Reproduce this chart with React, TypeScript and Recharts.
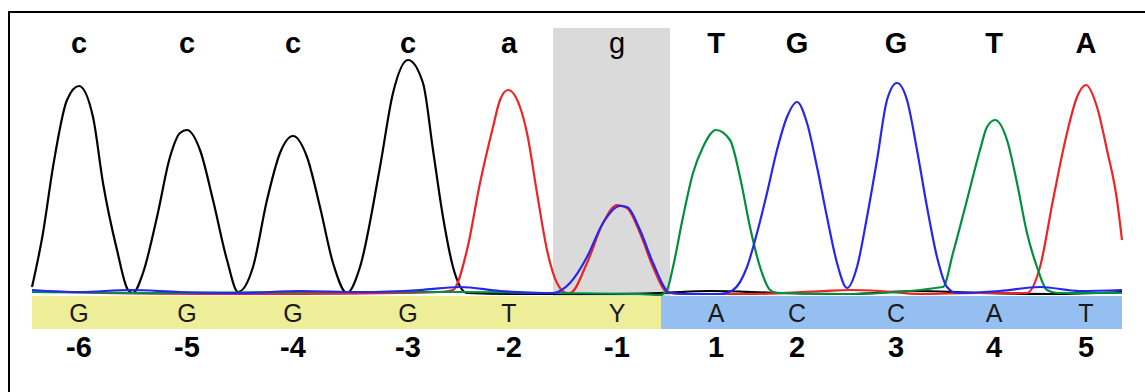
import { ComposedChart, Line, XAxis, YAxis, ReferenceArea } from "recharts";

// peak (base-call) positions along the trace, in scan units
const peakPositions = [79, 187, 293, 408, 509, 617, 716, 797, 896, 994, 1086];
const topCalls = ["c", "c", "c", "c", "a", "g", "T", "G", "G", "T", "A"];
const bandCalls = ["G", "G", "G", "G", "T", "Y", "A", "C", "C", "A", "T"];
const positionLabels = ["-6", "-5", "-4", "-3", "-2", "-1", "1", "2", "3", "4", "5"];

// [scan, signal]
const blackTrace: [number, number][] = [
  [32, 7], [43, 61], [53, 127], [67, 194], [79, 208], [93, 177], [103, 111], [117, 44],
  [128, 4], [133, 1], [143, 21], [157, 77], [170, 137], [180, 161], [187, 164], [200, 144],
  [213, 94], [227, 34], [238, 2], [253, 27], [267, 94], [280, 141], [293, 158], [307, 137],
  [320, 87], [333, 31], [347, 1], [360, 27], [380, 127], [393, 201], [408, 234], [423, 211],
  [433, 144], [443, 77], [453, 27], [467, 1], [520, 0], [600, 0], [660, 1], [710, 3],
  [780, 1], [850, 0], [913, 3], [980, 1], [1050, 0], [1122, 2],
];
const redTrace: [number, number][] = [
  [32, 3], [100, 1], [200, 0], [300, 0], [400, 1], [440, 2], [453, 4], [467, 44], [480, 111],
  [493, 167], [500, 194], [508, 204], [520, 187], [527, 161], [537, 101], [547, 44], [557, 11],
  [567, 1], [570, 1], [587, 31], [603, 71], [617, 89], [627, 86], [640, 61], [653, 27],
  [667, 2], [680, 0], [750, 0], [823, 3], [850, 4], [880, 3], [920, 0], [980, 1], [1027, 1],
  [1040, 27], [1053, 94], [1067, 161], [1077, 197], [1086, 209], [1097, 187], [1107, 144],
  [1117, 94], [1122, 54],
];
const greenTrace: [number, number][] = [
  [32, 2], [150, 1], [300, 2], [460, 2], [550, 1], [640, 0], [660, -1], [667, 4], [673, 27],
  [683, 77], [693, 121], [703, 147], [716, 164], [730, 154], [740, 117], [750, 67], [760, 27],
  [770, 4], [777, 1], [850, 0], [943, 7], [953, 41], [967, 94], [980, 144], [987, 167],
  [995, 174], [1007, 154], [1017, 111], [1027, 61], [1037, 27], [1047, 4], [1057, 1], [1122, 1],
];
const blueTrace: [number, number][] = [
  [32, 4], [80, 2], [130, 4], [180, 2], [240, 1], [300, 3], [360, 2], [420, 4], [460, 7],
  [500, 3], [540, 1], [553, 1], [570, 11], [587, 37], [603, 71], [620, 88], [627, 87],
  [640, 64], [653, 31], [670, 1], [690, 0], [720, 0], [733, 4], [747, 27], [757, 61],
  [767, 101], [777, 144], [787, 177], [797, 192], [807, 171], [817, 127], [827, 77], [837, 31],
  [847, 6], [857, 27], [867, 77], [877, 134], [887, 194], [897, 211], [907, 194], [917, 144],
  [927, 87], [937, 37], [947, 7], [957, 1], [1000, 3], [1040, 7], [1080, 3], [1122, 4],
];

const toRows = (pts: [number, number][]) => pts.map(([x, y]) => ({ x, y }));

const FONT = "'Liberation Sans', Arial, sans-serif";

function BaseTick({ x, y, payload }: any) {
  const i = peakPositions.indexOf(payload.value);
  if (i < 0) return null;
  return (
    <g>
      <text
        x={x}
        y={y - 276}
        textAnchor="middle"
        fontFamily={FONT}
        fontSize={29}
        fontWeight={topCalls[i] === "g" ? 400 : 700}
        fill="#000"
      >
        {topCalls[i]}
      </text>
      <text x={x} y={y - 7} textAnchor="middle" fontFamily={FONT} fontSize={25} fill="#1a1a1a">
        {bandCalls[i]}
      </text>
      <text x={x} y={y + 28} textAnchor="middle" fontFamily={FONT} fontSize={29} fontWeight={700} fill="#000">
        {positionLabels[i]}
      </text>
    </g>
  );
}

export default function App() {
  const traces = [
    { key: "C", data: toRows(blackTrace), color: "#000000" },
    { key: "T", data: toRows(redTrace), color: "#ee2424" },
    { key: "A", data: toRows(greenTrace), color: "#00903c" },
    { key: "G", data: toRows(blueTrace), color: "#2626ee" },
  ];
  return (
    <div style={{ position: "absolute", left: 0, top: 0, width: 1145, height: 392, background: "#fff", overflow: "hidden" }}>
      <div
        style={{
          position: "absolute",
          left: 8,
          top: 11,
          width: 1200,
          height: 400,
          borderLeft: "2px solid #000",
          borderTop: "2px solid #000",
        }}
      />
      <div style={{ position: "absolute", left: 0, top: 0 }}>
        <ComposedChart width={1145} height={392} margin={{ top: 12, right: 0, bottom: 0, left: 0 }}>
          <ReferenceArea x1={553} x2={670} y1={-2} y2={266} fill="#dadada" fillOpacity={1} stroke="none" />
          <ReferenceArea x1={32} x2={661} y1={-35} y2={-2} fill="#eeee99" fillOpacity={1} stroke="none" />
          <ReferenceArea x1={661} x2={1122} y1={-35} y2={-2} fill="#94bff0" fillOpacity={1} stroke="none" />
          <XAxis
            type="number"
            dataKey="x"
            domain={[0, 1145]}
            ticks={peakPositions}
            interval={0}
            height={63}
            axisLine={false}
            tickLine={false}
            tickSize={0}
            tickMargin={0}
            tick={<BaseTick />}
            allowDataOverflow
          />
          <YAxis type="number" domain={[-35, 282]} hide allowDataOverflow />
          {traces.map((t) => (
            <Line
              key={t.key}
              data={t.data}
              dataKey="y"
              type="monotone"
              stroke={t.color}
              strokeWidth={2.2}
              dot={false}
              activeDot={false}
              isAnimationActive={false}
            />
          ))}
        </ComposedChart>
      </div>
    </div>
  );
}
